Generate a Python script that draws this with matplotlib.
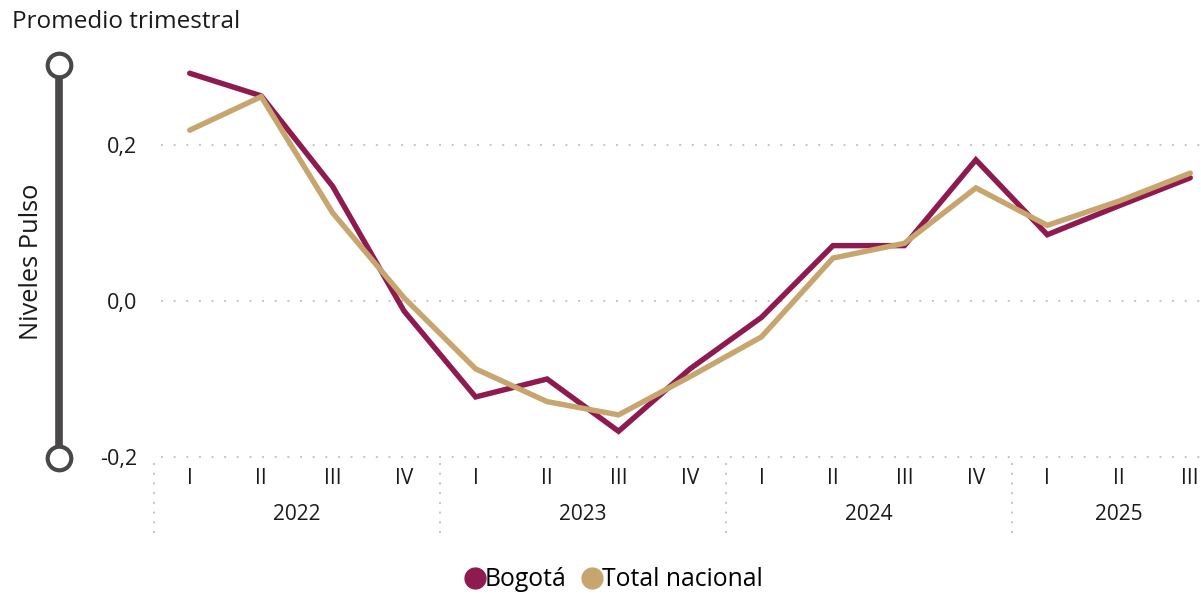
import matplotlib
matplotlib.use("Agg")
import matplotlib.pyplot as plt
from matplotlib.lines import Line2D
from matplotlib.ticker import FuncFormatter

plt.rcParams['font.family'] = ['Open Sans', 'DejaVu Sans']

years = ["2022", "2023", "2024", "2025"]
quarters = ["I", "II", "III", "IV", "I", "II", "III", "IV", "I", "II", "III", "IV", "I", "II", "III"]
bogota = [0.292, 0.263, 0.147, -0.013, -0.123, -0.100, -0.167, -0.087,
          -0.021, 0.071, 0.071, 0.181, 0.085, 0.122, 0.158]
nacional = [0.219, 0.262, 0.113, 0.004, -0.087, -0.129, -0.146, -0.097,
            -0.046, 0.055, 0.074, 0.145, 0.097, 0.128, 0.164]
series_names = ["Bogotá", "Total nacional"]
colors = ["#8E1A50", "#C6A66E"]

W, H = 1201, 595
fig = plt.figure(figsize=(W / 100, H / 100), dpi=100)

ax_left, ax_right = 154, 1226
ax_top, ax_bot = 60, 457
ax = fig.add_axes([ax_left / W, 1 - ax_bot / H, (ax_right - ax_left) / W, (ax_bot - ax_top) / H])

x = list(range(len(quarters)))
for vals, c in zip([bogota, nacional], colors):
    ax.plot(x, vals, color=c, lw=3.9, solid_capstyle='round', solid_joinstyle='miter', zorder=3)

ax.set_xlim(-0.5, 14.5)
ax.set_ylim(-0.2, 0.309)
ax.set_yticks([-0.2, 0.0, 0.2])
ax.yaxis.set_major_formatter(FuncFormatter(lambda v, p: f"{v:.1f}".replace(".", ",")))
for sp in ax.spines.values():
    sp.set_visible(False)
ax.tick_params(axis='y', length=0, pad=12, labelsize=15.5, labelcolor='#1a1a1a')
ax.set_xticks(x)
ax.set_xticklabels(quarters)
ax.tick_params(axis='x', length=0, pad=8, labelsize=15, labelcolor='#1a1a1a')

for yv in [-0.2, 0.0, 0.2]:
    ax.plot([-0.4, 14.5], [yv, yv], color='#c4c4c4', lw=1.4, ls=(0, (1, 5.5)), zorder=1, clip_on=False)

# year labels and separators
for i, yr in enumerate(years):
    start = i * 4
    ax.text((start + start + 3) / 2 if i < 3 else (start + start + 2) / 2, -0.2 - 0.074, yr,
            ha='center', va='center', fontsize=15, color='#1a1a1a')
    ax.plot([start - 0.5, start - 0.5], [-0.2 - 0.008, -0.2 - 0.1], color='#c4c4c4', lw=1.4,
            ls=(0, (1, 4)), clip_on=False)

# slider-like y axis decoration
sx = 59 / W
y1, y2 = 1 - 65 / H, 1 - 458 / H
fig.add_artist(Line2D([sx, sx], [y1, y2], transform=fig.transFigure, color='#4a4846', lw=5.5, zorder=1))
for yy in [y1, y2]:
    fig.add_artist(Line2D([sx], [yy], transform=fig.transFigure, marker='o', markersize=17,
                          markerfacecolor='white', markeredgecolor='#4a4846', markeredgewidth=3, zorder=2))

fig.text(12 / W, 1 - 22 / H, "Promedio trimestral", ha='left', va='center', fontsize=17.5, color='#1a1a1a')
fig.text(32 / W, 1 - 262 / H, "Niveles Pulso", ha='center', va='center', rotation=90, fontsize=18.3, color='#1a1a1a')

# legend
handles = [Line2D([0], [0], marker='o', color='w', markerfacecolor=c, markeredgecolor=c, markersize=15)
           for c in colors]
fig.legend(handles, series_names, loc='center', bbox_to_anchor=(612 / W, 1 - 580 / H), ncol=2, frameon=False,
           fontsize=17.8, handletextpad=-0.15, columnspacing=0.5, handlelength=1.1, borderpad=0)

fig.savefig("out.png", dpi=100)
